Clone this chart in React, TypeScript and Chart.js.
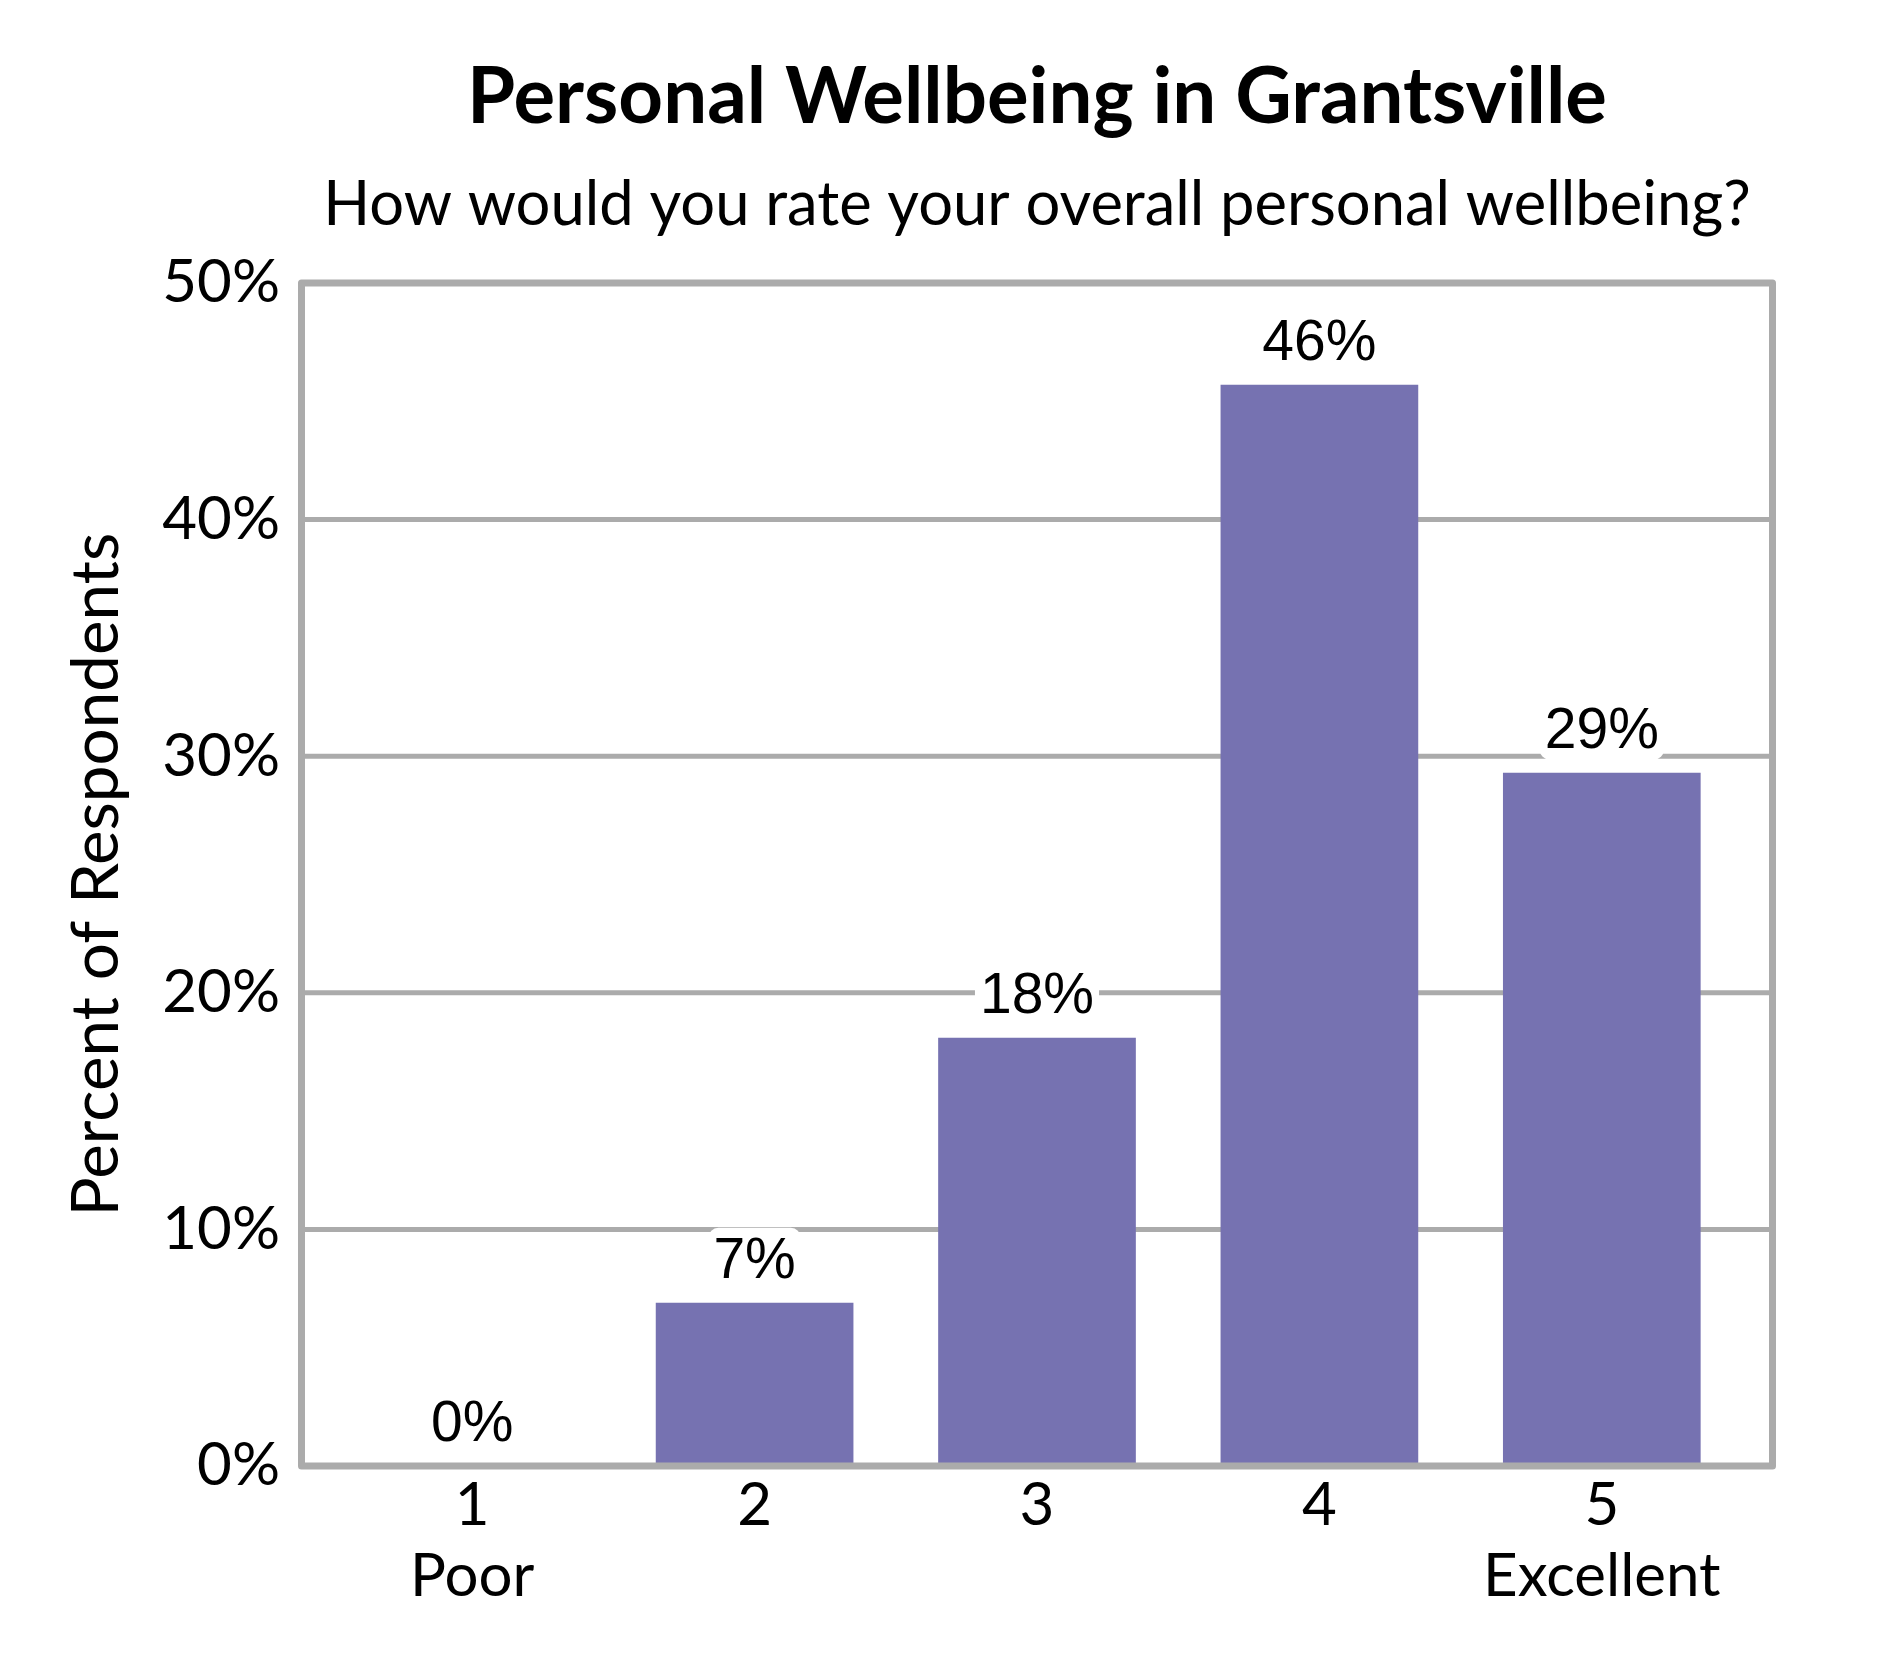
import { useEffect, useRef } from "react";
import { Chart, registerables } from "chart.js";

Chart.register(...registerables);

const ratings = ["1", "2", "3", "4", "5"];
const ratingNames = ["Poor", "", "", "", "Excellent"];
const percentRespondents = [0, 6.9, 18.1, 45.7, 29.3];
const yTicks = [0, 10, 20, 30, 40, 50];

const TITLE = "Personal Wellbeing in Grantsville";
const SUBTITLE = "How would you rate your overall personal wellbeing?";

const GRAY = "#ababab";
const BAR = "#7672b1";
const FONT = "Lato, 'Open Sans', sans-serif";
const FRAME_EXT = 29.5;

const decorPlugin = {
  id: "decor",
  beforeDatasetsDraw(chart: any) {
    const { ctx, chartArea, scales } = chart;
    const y = scales.y;
    ctx.save();
    ctx.strokeStyle = GRAY;
    ctx.lineWidth = 5;
    yTicks.slice(1, -1).forEach((t) => {
      const py = y.getPixelForValue(t);
      ctx.beginPath();
      ctx.moveTo(chartArea.left - FRAME_EXT, py);
      ctx.lineTo(chartArea.right + FRAME_EXT, py);
      ctx.stroke();
    });
    ctx.restore();
  },
  afterDatasetsDraw(chart: any) {
    const { ctx, chartArea, scales } = chart;
    const y = scales.y;
    const left = chartArea.left - FRAME_EXT;
    const right = chartArea.right + FRAME_EXT;
    const top = y.getPixelForValue(yTicks[yTicks.length - 1]);
    const bottom = y.getPixelForValue(0);

    ctx.save();
    ctx.strokeStyle = GRAY;
    ctx.lineWidth = 7;
    ctx.lineJoin = "round";
    ctx.strokeRect(left, top, right - left, bottom - top);

    // value labels with white backing
    ctx.font = "57px 'Liberation Sans', Arial, sans-serif";
    ctx.textAlign = "center";
    ctx.textBaseline = "alphabetic";
    const meta = chart.getDatasetMeta(0);
    meta.data.forEach((bar: any, i: number) => {
      const label = Math.round(percentRespondents[i]) + "%";
      const w = ctx.measureText(label).width;
      const base = bar.y - 25;
      ctx.fillStyle = "#ffffff";
      ctx.beginPath();
      ctx.roundRect(bar.x - w / 2 - 5, base - 50, w + 10, 62, 10);
      ctx.fill();
      ctx.fillStyle = "#000000";
      ctx.fillText(label, bar.x, base);
    });

    // titles centred on the frame
    const cx = (left + right) / 2;
    ctx.font = `bold 78px ${FONT}`;
    ctx.fillText(TITLE, cx, 123);
    ctx.font = `61.5px ${FONT}`;
    ctx.fillText(SUBTITLE, cx, 225);
    ctx.restore();
  },
};

export default function App() {
  const canvasRef = useRef<HTMLCanvasElement>(null);
  const chartRef = useRef<Chart | null>(null);

  useEffect(() => {
    document.body.style.margin = "0";
    if (!canvasRef.current) return;
    const ctx = canvasRef.current.getContext("2d");
    if (!ctx) return;

    chartRef.current = new Chart(ctx, {
      type: "bar",
      data: {
        labels: ratings.map((r, i) => [r, ratingNames[i]]),
        datasets: [
          {
            label: "Percent of Respondents",
            data: percentRespondents,
            backgroundColor: BAR,
            borderWidth: 0,
            barPercentage: 0.7,
            categoryPercentage: 1,
          },
        ],
      },
      options: {
        responsive: false,
        animation: false,
        devicePixelRatio: 1,
        layout: { padding: { top: 283, right: 147, left: 0, bottom: 0 } },
        plugins: {
          legend: { display: false },
          tooltip: { enabled: false },
          title: { display: false },
        },
        scales: {
          x: {
            grid: { display: false, drawTicks: false },
            border: { display: false },
            ticks: {
              color: "#000",
              padding: 4,
              font: { family: FONT, size: 60, lineHeight: 1.18 },
            },
            afterFit: (scale: any) => {
              scale.height = 214;
            },
          },
          y: {
            min: 0,
            max: 50,
            grid: { display: false, drawTicks: false },
            border: { display: false },
            ticks: {
              stepSize: 10,
              color: "#000",
              padding: 51,
              font: { family: FONT, size: 60 },
              callback: (v: any) => v + "%",
            },
            title: {
              display: true,
              text: "Percent of Respondents",
              color: "#000",
              font: { family: FONT, size: 65.5, lineHeight: 1.2 },
              padding: { top: 58, bottom: 0 },
            },
            afterFit: (scale: any) => {
              scale.width = 331;
            },
          },
        },
      },
      plugins: [decorPlugin],
    });

    return () => {
      chartRef.current?.destroy();
      chartRef.current = null;
    };
  }, []);

  return (
    <div style={{ width: 1890, height: 1680 }}>
      <canvas
        ref={canvasRef}
        width={1890}
        height={1680}
        style={{ display: "block", width: 1890, height: 1680 }}
      />
    </div>
  );
}
